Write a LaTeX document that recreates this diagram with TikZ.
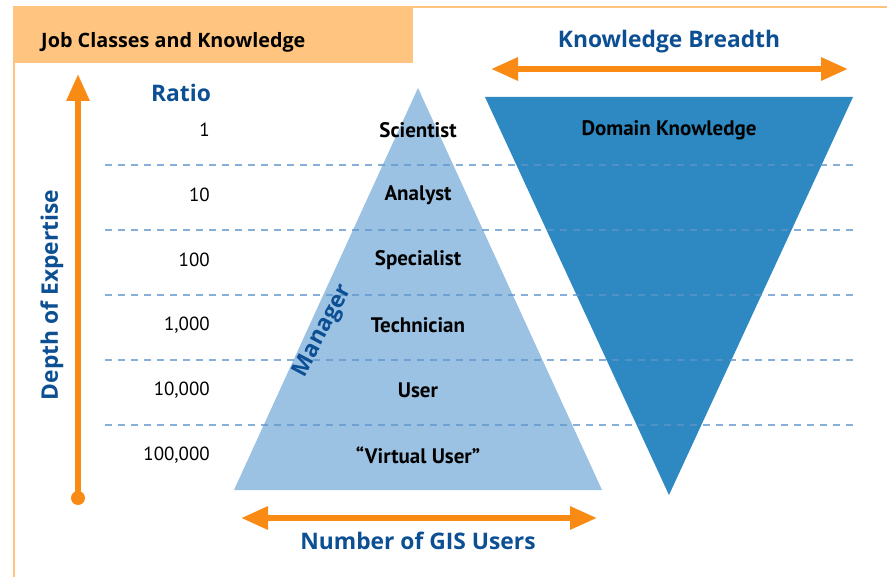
\documentclass[tikz,border=0pt]{standalone}
\usepackage{fontspec}
\setmainfont{PT Sans}
\newfontfamily\titlefont{Open Sans}
\usetikzlibrary{arrows.meta}
\definecolor{hdrfill}{HTML}{FFC580}
\definecolor{hdrline}{HTML}{FFC37F}
\definecolor{orangearrow}{HTML}{F98B14}
\definecolor{titleblue}{HTML}{0C4F93}
\definecolor{lightblue}{HTML}{9BC1E3}
\definecolor{darkblue}{HTML}{2E88C1}
\definecolor{dashblue}{HTML}{5F95CB}
\tikzset{
  bluetitle/.style={font=\titlefont\bfseries\fontsize{22.8}{26}\selectfont, text=titleblue, inner sep=0pt},
  joblabel/.style={font=\bfseries\fontsize{21}{24}\selectfont, text=black, inner sep=0pt},
  ratiolabel/.style={font=\fontsize{19}{22}\selectfont, text=black, inner sep=0pt, anchor=east},
  bigarrow/.style={draw=orangearrow, line width=6pt, -{Triangle[length=27pt,width=22pt]}},
  dblarrow/.style={draw=orangearrow, line width=6pt, {Triangle[length=27pt,width=22pt]}-{Triangle[length=27pt,width=22pt]}},
  gridline/.style={draw=dashblue, line width=1.2pt, dash pattern=on 7pt off 6pt, opacity=0.75}
}
\begin{document}
\begin{tikzpicture}[x=1pt,y=-1pt]
\useasboundingbox (0,0) rectangle (887,577);
\fill[white] (0,0) rectangle (887,577);
% frame
\fill[hdrfill] (13,6) rectangle (413,63);
\draw[hdrline, line width=2pt] (413,7) -- (887,7);
\draw[hdrline, line width=2pt] (14,63) -- (14,577);
\node[font=\titlefont\bfseries\fontsize{19.8}{23}\selectfont, anchor=west, inner sep=0pt] (hdr) at (41,42) {Job Classes and Knowledge};
% triangles
\fill[lightblue] (418,88) coordinate (lapex) -- (602,490) coordinate (lright) -- (234,490) coordinate (lleft) -- cycle;
\fill[darkblue] (485,97) coordinate (dleft) -- (853,97) coordinate (dright) -- (669,495) coordinate (dapex) -- cycle;
% grid lines
\foreach \y in {165,230,295,360,425}{
  \draw[gridline] (105,\y) -- (855,\y);
}
% left arrow
\node[circle, fill=orangearrow, minimum size=14pt, inner sep=0pt] (dot) at (78,498) {};
\coordinate (ltop) at (78,74);
\draw[bigarrow] (dot.center) -- (ltop);
\node[bluetitle, rotate=90] (depth) at (52,295) {Depth of Expertise};
% top arrow
\coordinate (kbL) at (491,69);
\coordinate (kbR) at (848,69);
\draw[dblarrow] (kbL) -- (kbR);
\node[bluetitle] (kb) at (669,42) {Knowledge Breadth};
% bottom arrow
\coordinate (nuL) at (241,518);
\coordinate (nuR) at (597,518);
\draw[dblarrow] (nuL) -- (nuR);
\node[bluetitle] (nu) at (418,541) {Number of GIS Users};
% ratio
\node[bluetitle] (ratio) at (181,93) {Ratio};
\node[ratiolabel] (r1) at (210,130) {1};
\node[ratiolabel] (r2) at (210,195) {10};
\node[ratiolabel] (r3) at (210,260) {100};
\node[ratiolabel] (r4) at (210,325) {1,000};
\node[ratiolabel] (r5) at (210,390) {10,000};
\node[ratiolabel] (r6) at (210,455) {100,000};
% job labels
\node[joblabel] (j1) at (418,130) {Scientist};
\node[joblabel] (j2) at (418,195) {Analyst};
\node[joblabel] (j3) at (418,260) {Specialist};
\node[joblabel] (j4) at (418,325) {Technician};
\node[joblabel] (j5) at (418,390) {User};
\node[joblabel] (j6) at (418,455) {“Virtual User”};
\node[joblabel] (dk) at (669,130) {Domain Knowledge};
\node[bluetitle, rotate=62] (mgr) at (323,331) {Manager};
\end{tikzpicture}
\end{document}
